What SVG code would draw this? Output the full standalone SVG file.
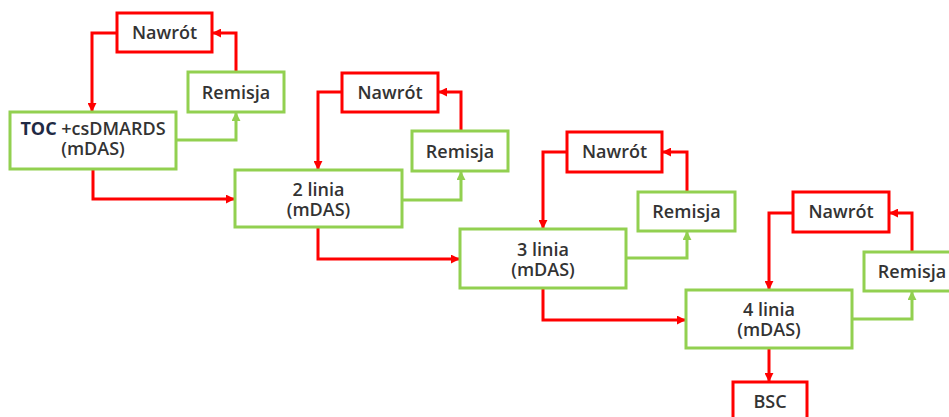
<svg xmlns="http://www.w3.org/2000/svg" width="949" height="417" viewBox="0 0 949 417">
<style>
.bg{fill:#ffffff}
.r{fill:#ffffff;stroke:#ff0000;stroke-width:3}
.g{fill:#ffffff;stroke:#92d050;stroke-width:3}
.cr{fill:none;stroke:#ff0000;stroke-width:3}
.cg{fill:none;stroke:#92d050;stroke-width:3}
text{font-family:"Open Sans","Liberation Sans",sans-serif;font-size:18px;font-weight:600;fill:#333333;text-anchor:middle}
.b{font-weight:bold;fill:#1f2a44}
</style>
<defs>
<marker id="ar" viewBox="0 0 10 10" refX="9" refY="5" markerWidth="9" markerHeight="9" markerUnits="userSpaceOnUse" orient="auto"><path d="M0,0L10,5L0,10z" fill="#ff0000"/></marker>
<marker id="ag" viewBox="0 0 10 10" refX="9" refY="5" markerWidth="9" markerHeight="9" markerUnits="userSpaceOnUse" orient="auto"><path d="M0,0L10,5L0,10z" fill="#92d050"/></marker>
</defs>
<rect class="bg" x="0" y="0" width="949" height="417"/>
<g id="connectors">
<path class="cr" d="M117,33H92V111" marker-end="url(#ar)"/>
<path class="cr" d="M236,72V33H213" marker-end="url(#ar)"/>
<path class="cg" d="M176,140H236V113" marker-end="url(#ag)"/>
<path class="cr" d="M93,169V199H234" marker-end="url(#ar)"/>
<path class="cr" d="M342,92H318V169" marker-end="url(#ar)"/>
<path class="cr" d="M461,131V92H439" marker-end="url(#ar)"/>
<path class="cg" d="M402,200H461V172" marker-end="url(#ag)"/>
<path class="cr" d="M318,227V259H459" marker-end="url(#ar)"/>
<path class="cr" d="M567,152H543V228" marker-end="url(#ar)"/>
<path class="cr" d="M687,192V152H663" marker-end="url(#ar)"/>
<path class="cg" d="M626,258H687V232" marker-end="url(#ag)"/>
<path class="cr" d="M543,288V320H685" marker-end="url(#ar)"/>
<path class="cr" d="M793,213H769V289" marker-end="url(#ar)"/>
<path class="cr" d="M912,252V213H890" marker-end="url(#ar)"/>
<path class="cg" d="M852,319H912V292" marker-end="url(#ag)"/>
<path class="cr" d="M769,348V381" marker-end="url(#ar)"/>
</g>
<g id="nawrot1"><rect class="r" x="117" y="13" width="95" height="39"/><text x="164.5" y="39">Nawrót</text></g>
<g id="remisja1"><rect class="g" x="188" y="72" width="96" height="40"/><text x="236" y="98.5">Remisja</text></g>
<g id="toc"><rect class="g" x="10" y="112" width="166" height="57"/><text x="93" y="135"><tspan class="b">TOC</tspan> +csDMARDS<tspan x="93" dy="20">(mDAS)</tspan></text></g>
<g id="nawrot2"><rect class="r" x="342" y="73" width="96" height="39"/><text x="390" y="99">Nawrót</text></g>
<g id="remisja2"><rect class="g" x="412" y="131" width="96" height="40"/><text x="460" y="157.5">Remisja</text></g>
<g id="linia2"><rect class="g" x="235" y="170" width="167" height="57"/><text x="318.5" y="196">2 linia<tspan x="318.5" dy="20">(mDAS)</tspan></text></g>
<g id="nawrot3"><rect class="r" x="567" y="132" width="95" height="40"/><text x="614.5" y="158">Nawrót</text></g>
<g id="remisja3"><rect class="g" x="638" y="192" width="97" height="39"/><text x="686.5" y="217.5">Remisja</text></g>
<g id="linia3"><rect class="g" x="460" y="229" width="166" height="59"/><text x="543" y="256">3 linia<tspan x="543" dy="20">(mDAS)</tspan></text></g>
<g id="nawrot4"><rect class="r" x="793" y="192" width="96" height="40"/><text x="841" y="218">Nawrót</text></g>
<g id="remisja4"><rect class="g" x="864" y="252" width="96" height="39"/><text x="912" y="277.5">Remisja</text></g>
<g id="linia4"><rect class="g" x="686" y="290" width="166" height="58"/><text x="769" y="316">4 linia<tspan x="769" dy="20">(mDAS)</tspan></text></g>
<g id="bsc"><rect class="r" x="733" y="382" width="74" height="45"/><text x="770" y="408">BSC</text></g>
</svg>
